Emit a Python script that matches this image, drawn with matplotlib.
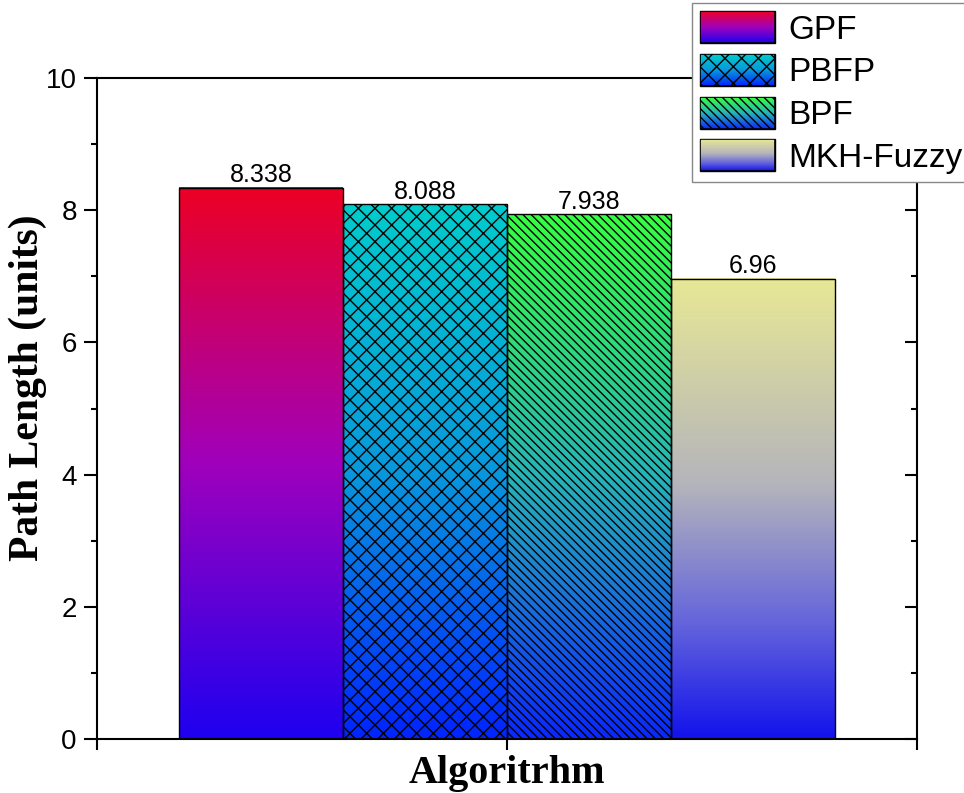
import numpy as np
import matplotlib
matplotlib.use("Agg")
import matplotlib.pyplot as plt
from matplotlib.colors import LinearSegmentedColormap
from matplotlib.patches import Patch, Rectangle
from matplotlib.ticker import MultipleLocator

# data
algorithms = ["GPF", "PBFP", "BPF", "MKH-Fuzzy"]
path_length = [8.338, 8.088, 7.938, 6.96]
value_labels = ["8.338", "8.088", "7.938", "6.96"]

# gradient stops (bottom -> top) and hatch per bar
grad_stops = [
    [(0.0, "#1e00f0"), (0.5, "#a000bc"), (1.0, "#ec0024")],
    [(0.0, "#0024ff"), (0.5, "#0898dc"), (1.0, "#00cccc")],
    [(0.0, "#0a28ff"), (0.5, "#26b4b8"), (1.0, "#36ff40")],
    [(0.0, "#1212ec"), (0.25, "#6464dc"), (0.55, "#b4b4bc"), (1.0, "#e8e896")],
]
hatches = ["", "xx", "\\\\\\\\", ""]

plt.rcParams["font.family"] = ["Liberation Sans", "DejaVu Sans"]
plt.rcParams["hatch.linewidth"] = 1.0

fig = plt.figure(figsize=(9.64, 7.93), dpi=100)
ax = fig.add_axes([0.1006, 0.0681, 0.8506, 0.8335])

cmaps = [LinearSegmentedColormap.from_list("g%d" % i, s) for i, s in enumerate(grad_stops)]
grad = np.linspace(1, 0, 256).reshape(-1, 1)

xpos = np.arange(len(algorithms))
for i, (x, h) in enumerate(zip(xpos, path_length)):
    ax.imshow(grad, cmap=cmaps[i], vmin=0, vmax=1, extent=(x - 0.5, x + 0.5, 0, h),
              aspect="auto", origin="upper", zorder=1, interpolation="bilinear")
bars = ax.bar(xpos, path_length, width=1.0, facecolor="none", edgecolor="black",
              linewidth=1.0, zorder=2)
for b, hh in zip(bars, hatches):
    b.set_hatch(hh)

for x, h, t in zip(xpos, path_length, value_labels):
    ax.annotate(t, (x, h), xytext=(0, 0.5), textcoords="offset points",
                ha="center", va="bottom", fontsize=18)

ax.set_xlim(-1, 4)
ax.set_ylim(0, 10)
ax.set_aspect("auto")

for s in ax.spines.values():
    s.set_linewidth(1.5)

ax.set_xticks([-1, 1.5, 4])
ax.set_xticklabels([])
ax.tick_params(axis="x", direction="out", length=8, width=1.5, top=False)
ax.yaxis.set_major_locator(MultipleLocator(2))
ax.yaxis.set_minor_locator(MultipleLocator(1))
ax.tick_params(axis="y", which="major", direction="out", length=9.5, width=1.5, labelsize=20, pad=5)
ax.tick_params(axis="y", which="minor", direction="out", length=4.5, width=1.5)

ax2 = ax.twinx()
ax2.set_ylim(0, 10)
ax2.yaxis.set_major_locator(MultipleLocator(2))
ax2.yaxis.set_minor_locator(MultipleLocator(1))
ax2.tick_params(axis="y", which="major", direction="in", length=9, width=1.5, labelright=False)
ax2.tick_params(axis="y", which="minor", direction="in", length=4.5, width=1.5)
for s in ax2.spines.values():
    s.set_visible(False)

serif = ["Liberation Serif", "DejaVu Serif"]
ax.set_ylabel("Path Length (units)", fontsize=30, fontweight="bold", family=serif)
ax.yaxis.set_label_coords(-0.061, 0.531)
ax.set_xlabel("Algoritrhm", fontsize=29, fontweight="bold", family=serif, labelpad=0)

mid_colors = [c(0.5) for c in cmaps]
handles = [Patch(facecolor=mc, edgecolor="black", hatch=hh) for mc, hh in zip(mid_colors, hatches)]
leg = ax2.legend(handles, algorithms, loc="upper left",
                 bbox_to_anchor=(692 / 964, 1 - 3 / 793), bbox_transform=fig.transFigure,
                 fontsize=24, handlelength=2.25, handleheight=1.1, labelspacing=0.25,
                 borderpad=0.25, handletextpad=0.4, borderaxespad=0,
                 fancybox=False, framealpha=1, edgecolor="#888888")
leg.get_frame().set_linewidth(1.0)

# overlay gradient swatches on the legend handles
fig.canvas.draw()
renderer = fig.canvas.get_renderer()
for i, hp in enumerate(leg.legend_handles):
    bb = hp.get_window_extent(renderer).transformed(fig.transFigure.inverted())
    lax = fig.add_axes([bb.x0, bb.y0, bb.width, bb.height])
    lax.imshow(grad, cmap=cmaps[i], vmin=0, vmax=1, extent=(0, 1, 0, 1),
               aspect="auto", origin="upper", interpolation="bilinear")
    lax.add_patch(Rectangle((0, 0), 1, 1, transform=lax.transAxes, fill=False,
                            edgecolor="black", linewidth=1.2, hatch=hatches[i]))
    lax.set_xlim(0, 1)
    lax.set_ylim(0, 1)
    lax.axis("off")

fig.savefig("out.png", dpi=100)
